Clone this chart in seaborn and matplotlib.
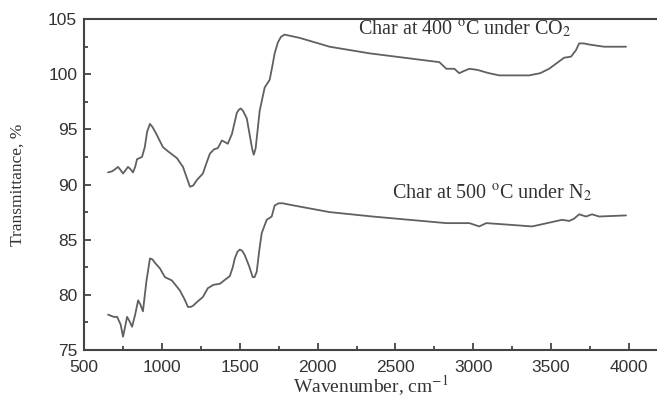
import pandas as pd
import seaborn as sns
import matplotlib.pyplot as plt

# FTIR spectra
wn_co2 = [654, 680, 700, 718, 735, 750, 766, 782, 798, 814, 828, 840, 872, 890, 905, 923,
          940, 960, 1006, 1040, 1096, 1135, 1160, 1180, 1200, 1224, 1263, 1290, 1308,
          1335, 1359, 1385, 1423, 1450, 1481, 1495, 1506, 1520, 1545, 1565, 1580, 1590,
          1602, 1628, 1660, 1692, 1710, 1724, 1745, 1765, 1788, 1820, 1885, 1981, 2077,
          2333, 2782, 2827, 2878, 2910, 2940, 2975, 3026, 3100, 3167, 3359, 3430, 3487,
          3583, 3628, 3660, 3680, 3710, 3744, 3840, 3981]
tr_co2 = [91.1, 91.2, 91.4, 91.6, 91.3, 91.0, 91.3, 91.6, 91.4, 91.1, 91.6, 92.3, 92.5, 93.4,
          94.8, 95.5, 95.2, 94.7, 93.4, 93.0, 92.4, 91.6, 90.6, 89.8, 89.9, 90.4, 91.0,
          92.1, 92.8, 93.2, 93.3, 94.0, 93.7, 94.6, 96.5, 96.8, 96.9, 96.7, 96.0, 94.4,
          93.2, 92.7, 93.3, 96.7, 98.8, 99.5, 100.8, 101.9, 102.9, 103.4, 103.6, 103.5,
          103.3, 102.9, 102.5, 101.9, 101.1, 100.5, 100.5, 100.1, 100.3, 100.5, 100.4,
          100.1, 99.9, 99.9, 100.1, 100.5, 101.5, 101.6, 102.2, 102.8, 102.8, 102.7,
          102.5, 102.5]

wn_n2 = [654, 690, 712, 735, 750, 762, 776, 792, 808, 828, 847, 862, 878, 900, 923, 940,
         955, 987, 1019, 1064, 1115, 1145, 1167, 1185, 1199, 1230, 1263, 1295, 1330, 1372,
         1436, 1455, 1468, 1485, 1500, 1515, 1532, 1560, 1583, 1595, 1609, 1625, 1641,
         1673, 1705, 1724, 1750, 1776, 1810, 1885, 2077, 2352, 2827, 2910, 2975, 3038,
         3083, 3186, 3378, 3570, 3616, 3647, 3680, 3724, 3763, 3808, 3981]
tr_n2 = [78.2, 78.0, 78.0, 77.3, 76.2, 77.0, 78.0, 77.6, 77.1, 78.2, 79.5, 79.1, 78.5, 81.2,
         83.3, 83.2, 82.9, 82.4, 81.6, 81.3, 80.4, 79.6, 78.9, 78.9, 79.0, 79.4, 79.8, 80.6,
         80.9, 81.0, 81.7, 82.5, 83.3, 83.9, 84.1, 84.0, 83.6, 82.6, 81.6, 81.6, 82.1,
         84.0, 85.6, 86.8, 87.1, 88.1, 88.3, 88.3, 88.2, 88.0, 87.5, 87.1, 86.5, 86.5,
         86.5, 86.2, 86.5, 86.4, 86.2, 86.8, 86.7, 86.9, 87.3, 87.1, 87.3, 87.1, 87.2]

sns.set_style("ticks")
plt.rcParams['mathtext.fontset'] = 'stix'

fig = plt.figure(figsize=(6.57, 3.99), dpi=100)
ax = fig.add_axes([0.128, 0.123, 0.872, 0.829])

line_c = "#606060"
sns.lineplot(x=wn_co2, y=tr_co2, ax=ax, color=line_c, linewidth=1.3)
sns.lineplot(x=wn_n2, y=tr_n2, ax=ax, color=line_c, linewidth=1.3)

ax.set_xlim(500, 4180)
ax.set_ylim(75, 105)
ax.set_xticks(range(500, 4001, 500))
ax.set_xticks(range(750, 4001, 500), minor=True)
ax.set_yticks(range(75, 106, 5))
ax.set_yticks([77.5, 82.5, 87.5, 92.5, 97.5, 102.5], minor=True)
ax.tick_params(which="both", direction="in", colors="#444444", labelsize=12.5,
               labelcolor="#333333", width=1.3)
ax.tick_params(which="major", length=5)
ax.tick_params(which="minor", length=3)
ax.tick_params(axis="x", pad=7)
ax.tick_params(axis="y", pad=5)
for lbl in ax.get_xticklabels() + ax.get_yticklabels():
    lbl.set_family("Liberation Sans")

for side in ["left", "bottom", "top"]:
    ax.spines[side].set_color("#444444")
    ax.spines[side].set_linewidth(1.5)
ax.spines["right"].set_visible(False)

ax.set_xlabel("Wavenumber, cm$^{-1}$", family="Liberation Serif", fontsize=14,
              color="#333333", labelpad=-1)
ax.set_ylabel("Transmittance, %", family="Liberation Serif", fontsize=12.5,
              color="#333333", labelpad=16)

ax.text(2260, 104.1, r"Char at 400 $^{\mathrm{o}}$C under CO$_2$", family="Liberation Serif",
        fontsize=14.5, color="#333333", va="center")
ax.text(2475, 89.2, r"Char at 500 $^{\mathrm{o}}$C under N$_2$", family="Liberation Serif",
        fontsize=14.5, color="#333333", va="center")

plt.savefig("out.png", dpi=100)
